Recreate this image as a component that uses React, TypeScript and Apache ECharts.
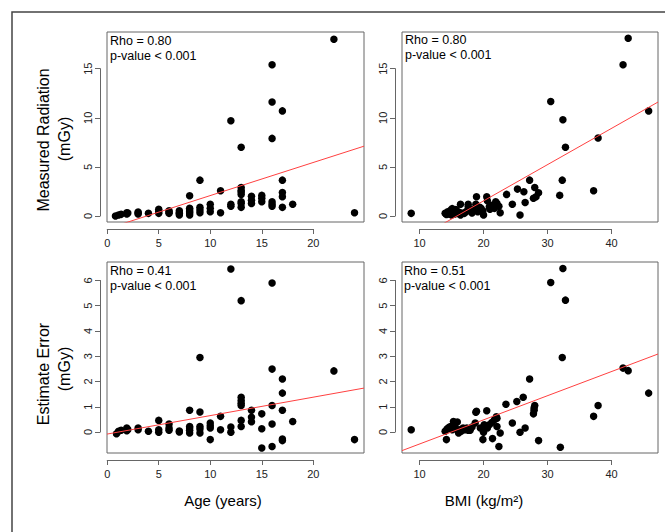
import React, { useEffect, useRef } from "react";
import * as echarts from "echarts";

// ---------- data ----------
const ageRadiation: number[][] = [
  [0.8, 0], [1.1, 0.1], [1.35, 0.17], [1.9, 0.2], [1.9, 0.34], [2, 0.3],
  [3, 0.2], [3, 0.4], [3, 0.3], [4, 0.27],
  [5, 0.27], [5, 0.45], [5, 0.68],
  [6, 0.27], [6, 0.4], [6, 0.54],
  [7, 0.1], [7, 0.25], [7, 0.34], [7, 0.54],
  [8, 0.1], [8, 0.3], [8, 0.44], [8, 0.6], [8, 0.78], [8, 2.06],
  [9, 0.34], [9, 0.6], [9, 0.88], [9, 3.65],
  [10, 0.44], [10, 0.78], [10, 1.2],
  [11, 0.34], [11, 2.57],
  [12, 1.0], [12, 1.2], [12, 9.7],
  [13, 0.88], [13, 1.28], [13, 1.45], [13, 2.2], [13, 2.45], [13, 2.6], [13, 2.9], [13, 7.0],
  [14, 1.28], [14, 1.6], [14, 2.0],
  [15, 1.45], [15, 1.8], [15, 2.1],
  [16, 1.0], [16, 1.2], [16, 1.45], [16, 7.9], [16, 11.6], [16, 15.4],
  [17, 0.88], [17, 1.96], [17, 2.4], [17, 3.65], [17, 10.7],
  [18, 1.2], [22, 18.0], [24, 0.34],
];

const bmiRadiation: number[][] = [
  [8.7, 0.27],
  [14.0, 0.27], [14.2, 0.15], [14.4, 0.44], [14.6, 0.2], [14.8, 0.3], [14.9, 0.6], [15.0, 0.1],
  [15.1, 0.75], [15.3, 0.35], [15.4, 0.5], [15.5, 0.2], [15.7, 0.65], [15.9, 0.27], [16.1, 0.4],
  [16.4, 1.2], [16.4, 0.1], [16.6, 0.3], [17.0, 0.27], [17.3, 0.45], [17.6, 1.2], [17.6, 0.95],
  [17.9, 0.54], [18.2, 0.3], [18.4, 0.68], [18.8, 1.2], [18.9, 1.96], [19.1, 0.44], [19.4, 0.9],
  [19.6, 0.78], [19.9, 0.54], [20.0, 0.1], [20.5, 1.96], [20.6, 1.55], [20.9, 0.95], [21.0, 0.7],
  [21.3, 1.1], [21.7, 0.78], [21.9, 1.45], [22.1, 1.28], [22.4, 1.0], [22.6, 0.34], [23.6, 2.2],
  [24.5, 1.2], [25.3, 2.74], [25.7, 0.1], [26.3, 2.47], [26.5, 1.38], [27.2, 3.65], [27.8, 1.8],
  [28.0, 2.9], [28.2, 1.96], [28.6, 2.36], [30.5, 11.65], [31.9, 2.1], [32.3, 3.65], [32.4, 9.8],
  [32.8, 7.0], [37.2, 2.57], [37.9, 7.94], [41.8, 15.4], [42.6, 18.1], [45.8, 10.7],
];

const ageError: number[][] = [
  [0.9, -0.07], [1.1, 0.03], [1.35, 0.07], [1.9, 0.05], [1.9, 0.16], [2, 0.1],
  [3, 0.09], [3, 0.16], [4, 0.03],
  [5, -0.01], [5, 0.09], [5, 0.46],
  [6, 0.07], [6, 0.16], [6, 0.32],
  [7, 0.04], [7, 0.0],
  [8, -0.04], [8, 0.07], [8, 0.16], [8, 0.22], [8, 0.86],
  [9, -0.04], [9, 0.12], [9, 0.22], [9, 0.79], [9, 2.95],
  [10, -0.3], [10, 0.16], [10, 0.25], [10, 0.36],
  [11, 0.09], [11, 0.62],
  [12, -0.01], [12, 0.2], [12, 6.45],
  [13, 0.22], [13, 0.46], [13, 1.05], [13, 1.14], [13, 1.25], [13, 1.38], [13, 5.2],
  [14, 0.41], [14, 0.59], [14, 0.86],
  [15, -0.63], [15, 0.13], [15, 0.72],
  [16, -0.57], [16, 0.32], [16, 1.05], [16, 2.49], [16, 5.9],
  [17, -0.34], [17, -0.28], [17, 0.86], [17, 1.54], [17, 2.1],
  [18, 0.42], [22, 2.42], [24, -0.3],
];

const bmiError: number[][] = [
  [8.7, 0.09],
  [14.0, 0.03], [14.2, -0.3], [14.3, 0.12], [14.5, 0.16], [14.7, 0.2], [14.9, 0.22], [15.1, 0.09],
  [15.3, 0.42], [15.5, 0.22], [15.7, 0.12], [15.9, 0.4], [16.1, -0.04], [16.3, 0.09], [16.5, 0.03],
  [16.8, 0.16], [17.1, 0.09], [17.4, 0.16], [17.6, 0.07], [17.9, 0.07], [18.2, 0.2], [18.7, 0.36],
  [18.9, 0.82], [18.8, 0.78], [19.5, 0.16], [19.9, -0.3], [20.0, -0.01], [20.1, 0.29], [20.5, 0.84],
  [20.6, 0.16], [20.9, 0.29], [21.3, 0.38], [21.4, -0.26], [21.7, 0.49], [22.0, 0.6], [22.1, 0.55],
  [22.1, 0.22], [22.4, -0.57], [22.6, -0.04], [23.5, 1.1], [24.5, 0.36], [25.2, 1.21], [25.7, -0.01],
  [26.2, 1.38], [26.5, 0.16], [27.2, 2.1], [27.8, 0.72], [27.9, 0.86], [27.9, 0.95], [28.0, 1.05],
  [28.6, -0.34], [30.5, 5.92], [32.0, -0.6], [32.3, 2.95], [32.4, 6.47], [32.8, 5.22], [37.2, 0.62],
  [37.9, 1.05], [41.8, 2.53], [42.6, 2.43], [45.8, 1.54],
];

// regression fits: [intercept, slope]
const fitAgeRadiation = [-1.29, 0.337];
const fitBmiRadiation = [-5.84, 0.369];
const fitAgeError = [-0.08, 0.073];
const fitBmiError = [-1.43, 0.0956];

const rhoLabels = ["Rho = 0.80", "Rho = 0.80", "Rho = 0.41", "Rho = 0.51"];
const pLabels = ["p-value < 0.001", "p-value < 0.001", "p-value < 0.001", "p-value < 0.001"];

const ageTicks = [0, 20, 5];
const bmiTicks = [10, 40, 10];
const radiationTicks = [0, 15, 5];
const errorTicks = [0, 6, 1];

const ageRange = [-0.02, 24.92];
const bmiRange = [7.26, 47.26];
const radiationRange = [-0.61, 18.73];
const errorRange = [-0.83, 6.73];

// ---------- layout ----------
const FONT = "Liberation Sans, Arial, Helvetica, sans-serif";
const panels = [
  { left: 107, top: 32, width: 257, height: 190, xr: ageRange, yr: radiationRange, xt: ageTicks, yt: radiationTicks, data: ageRadiation, fit: fitAgeRadiation, tx: 110, ty: 41 },
  { left: 402, top: 32, width: 256, height: 190, xr: bmiRange, yr: radiationRange, xt: bmiTicks, yt: radiationTicks, data: bmiRadiation, fit: fitBmiRadiation, tx: 405, ty: 40 },
  { left: 107, top: 262, width: 257, height: 191, xr: ageRange, yr: errorRange, xt: ageTicks, yt: errorTicks, data: ageError, fit: fitAgeError, tx: 110, ty: 271 },
  { left: 402, top: 262, width: 256, height: 191, xr: bmiRange, yr: errorRange, xt: bmiTicks, yt: errorTicks, data: bmiError, fit: fitBmiError, tx: 404, ty: 271 },
];

function px(p: any, v: number) {
  return p.left + ((v - p.xr[0]) / (p.xr[1] - p.xr[0])) * p.width;
}
function py(p: any, v: number) {
  return p.top + ((p.yr[1] - v) / (p.yr[1] - p.yr[0])) * p.height;
}

function buildOption() {
  const grid: any[] = [];
  const xAxis: any[] = [];
  const yAxis: any[] = [];
  const series: any[] = [];
  const graphic: any[] = [];
  const axisColor = "#666";
  const labelStyle = { fontSize: 11, color: "#222", fontFamily: FONT };

  panels.forEach((p, i) => {
    // main plotting grid
    const gi = grid.length;
    grid.push({ left: p.left, top: p.top, width: p.width, height: p.height, show: true, borderColor: axisColor, borderWidth: 1, backgroundColor: "transparent" });
    xAxis.push({ gridIndex: gi, type: "value", min: p.xr[0], max: p.xr[1], show: false });
    yAxis.push({ gridIndex: gi, type: "value", min: p.yr[0], max: p.yr[1], show: false });
    series.push({
      type: "scatter", xAxisIndex: gi, yAxisIndex: gi, data: p.data,
      symbolSize: 7.5, itemStyle: { color: "#000", opacity: 1 }, silent: true,
    });
    series.push({
      type: "line", xAxisIndex: gi, yAxisIndex: gi, clip: true, symbol: "none",
      data: [
        [p.xr[0], p.fit[0] + p.fit[1] * p.xr[0]],
        [p.xr[1], p.fit[0] + p.fit[1] * p.xr[1]],
      ],
      lineStyle: { color: "#ff4040", width: 1 }, silent: true, z: 5,
    });

    // x axis (R style: line spans first to last tick, offset below the box)
    const xg = grid.length;
    const x0 = px(p, p.xt[0]);
    const x1 = px(p, p.xt[1]);
    grid.push({ left: x0, width: x1 - x0, top: p.top + p.height + 6, height: 1 });
    xAxis.push({
      gridIndex: xg, type: "value", min: p.xt[0], max: p.xt[1], interval: p.xt[2], position: "bottom",
      axisLine: { show: true, lineStyle: { color: axisColor, width: 1 } },
      axisTick: { show: true, length: 5, lineStyle: { color: axisColor } },
      axisLabel: { ...labelStyle, margin: 8, showMinLabel: true, showMaxLabel: true },
      splitLine: { show: false },
    });
    yAxis.push({ gridIndex: xg, type: "value", show: false });

    // y axis
    const yg = grid.length;
    const y0 = py(p, p.yt[0]);
    const y1 = py(p, p.yt[1]);
    grid.push({ left: p.left - 7, width: 1, top: y1, height: y0 - y1 });
    xAxis.push({ gridIndex: yg, type: "value", show: false });
    yAxis.push({
      gridIndex: yg, type: "value", min: p.yt[0], max: p.yt[1], interval: p.yt[2], position: "left",
      axisLine: { show: true, lineStyle: { color: axisColor, width: 1 } },
      axisTick: { show: true, length: 5, lineStyle: { color: axisColor } },
      axisLabel: { ...labelStyle, rotate: 90, margin: 7, showMinLabel: true, showMaxLabel: true },
      splitLine: { show: false },
    });

    // annotation
    graphic.push({
      type: "text", x: p.tx, y: p.ty,
      style: { text: rhoLabels[i], font: `12.5px ${FONT}`, fill: "#000", verticalAlign: "middle", align: "left" },
      silent: true,
    });
    graphic.push({
      type: "text", x: p.tx, y: p.ty + 14.7,
      style: { text: pLabels[i], font: `12.5px ${FONT}`, fill: "#000", verticalAlign: "middle", align: "left" },
      silent: true,
    });
  });

  // outer frame
  graphic.push({
    type: "rect", shape: { x: 12, y: 12, width: 700, height: 600 },
    style: { fill: "none", stroke: "#444", lineWidth: 1.5 }, silent: true,
  });

  const titles = [
    { text: "Age (years)", x: 223, y: 500, rot: 0, size: 15 },
    { text: "BMI (kg/m²)", x: 484, y: 500, rot: 0, size: 15 },
    { text: "Measured Radiation", x: 43, y: 140, rot: Math.PI / 2, size: 16 },
    { text: "(mGy)", x: 64, y: 139, rot: Math.PI / 2, size: 16 },
    { text: "Estimate Error", x: 43, y: 374, rot: Math.PI / 2, size: 16 },
    { text: "(mGy)", x: 64, y: 369, rot: Math.PI / 2, size: 16 },
  ];
  titles.forEach((t) => {
    graphic.push({
      type: "text", x: t.x, y: t.y, rotation: t.rot,
      style: { text: t.text, font: `${t.size}px ${FONT}`, fill: "#000", align: "center", verticalAlign: "middle" },
      silent: true,
    });
  });

  return {
    animation: false,
    backgroundColor: "#fff",
    grid, xAxis, yAxis, series, graphic,
  };
}

export default function App() {
  const ref = useRef<HTMLDivElement>(null);
  useEffect(() => {
    if (!ref.current) return;
    const chart = echarts.init(ref.current, null, { renderer: "svg" });
    chart.setOption(buildOption() as any);
    return () => chart.dispose();
  }, []);
  return (
    <div
      ref={ref}
      style={{ position: "fixed", left: 0, top: 0, width: 665, height: 532, background: "#fff" }}
    />
  );
}
